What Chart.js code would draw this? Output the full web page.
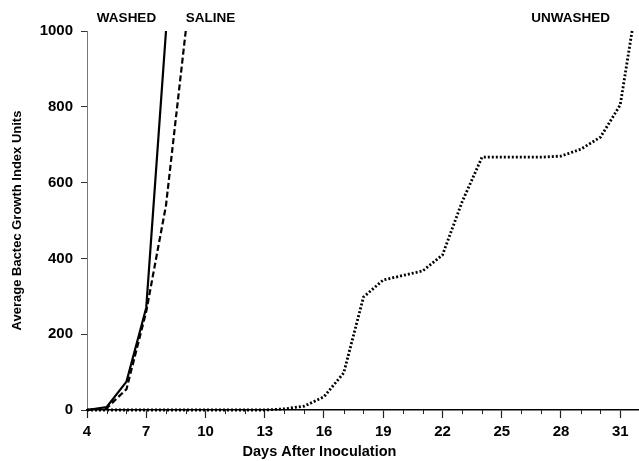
<!DOCTYPE html>
<html>
<head>
<meta charset="utf-8">
<script src="https://cdn.jsdelivr.net/npm/chart.js@4/dist/chart.umd.min.js"></script>
<style>
  html, body { margin: 0; padding: 0; background: #fff; }
  #wrap { width: 639px; height: 461px; }
</style>
</head>
<body>
<div id="wrap"><canvas id="c"></canvas></div>
<script>
// days and growth index values
const washedDays = [4, 5, 6, 7, 8];
const washedVals = [0, 8, 75, 270, 1000];

const salineDays = [4, 5, 6, 7, 8, 9];
const salineVals = [0, 5, 55, 260, 540, 1000];

const unwashedDays = [4, 5, 6, 7, 8, 9, 10, 11, 12, 13, 14, 15, 16, 17, 18, 19, 20, 21, 22, 23, 24, 25, 26, 27, 28, 29, 30, 31, 31.6];
const unwashedVals = [0, 0, 0, 0, 0, 0, 0, 0, 0, 0, 3, 10, 35, 98, 298, 343, 355, 367, 409, 550, 667, 667, 667, 667, 670, 688, 720, 805, 1000];

const xLabelTicks = [4, 7, 10, 13, 16, 19, 22, 25, 28, 31];
const yTicks = [0, 200, 400, 600, 800, 1000];
const seriesNames = ['WASHED', 'SALINE', 'UNWASHED'];

const pts = (xs, ys) => xs.map((x, i) => ({ x, y: ys[i] }));
const FONT = '"Liberation Sans", Arial, sans-serif';

// curve names written at the top of the plot, anchored to data coords
const nameSpots = [
  { name: seriesNames[0], x: 4.5 },
  { name: seriesNames[1], x: 9.0 },
  { name: seriesNames[2], x: 26.5 },
];

const extras = {
  id: 'extras',
  afterDraw(chart) {
    const { ctx, scales: { x, y } } = chart;
    ctx.save();
    // minor ticks on x every day
    ctx.strokeStyle = '#222';
    ctx.lineWidth = 1;
    const base = y.bottom;
    for (let d = 4; d <= 31; d++) {
      if ((d - 4) % 3 === 0) continue;
      const px = Math.round(x.getPixelForValue(d)) + 0.5;
      ctx.beginPath();
      ctx.moveTo(px, base);
      ctx.lineTo(px, base + 4);
      ctx.stroke();
    }
    ctx.fillStyle = '#000';
    ctx.textBaseline = 'middle';
    // series names
    ctx.font = 'bold 13.5px ' + FONT;
    ctx.textAlign = 'left';
    nameSpots.forEach(s => {
      ctx.fillText(s.name, x.getPixelForValue(s.x), 18);
    });
    // x axis title, centred on the page like the original
    ctx.font = 'bold 14.5px ' + FONT;
    ctx.textAlign = 'center';
    ctx.fillText('Days After Inoculation', chart.width / 2, 452);
    ctx.restore();
  }
};

const lineCommon = {
  borderColor: '#000',
  pointRadius: 0,
  fill: false,
  tension: 0,
  clip: false,
};

new Chart(document.getElementById('c'), {
  type: 'line',
  data: {
    datasets: [
      { ...lineCommon, label: seriesNames[2], data: pts(unwashedDays, unwashedVals), borderWidth: 2.8, borderDash: [2, 2] },
      { ...lineCommon, label: seriesNames[1], data: pts(salineDays, salineVals), borderWidth: 2.2, borderDash: [6, 3] },
      { ...lineCommon, label: seriesNames[0], data: pts(washedDays, washedVals), borderWidth: 2.2 },
    ]
  },
  options: {
    responsive: true,
    maintainAspectRatio: false,
    animation: false,
    layout: { padding: { top: 31, right: 0, left: 10, bottom: 0 } },
    plugins: {
      legend: { display: false },
      tooltip: { enabled: false },
    },
    scales: {
      x: {
        type: 'linear',
        min: 4,
        max: 31.95,
        afterBuildTicks: s => { s.ticks = xLabelTicks.map(v => ({ value: v })); },
        afterFit: s => { s.height = 51; },
        ticks: {
          color: '#000',
          font: { family: FONT, size: 15, weight: 'bold' },
          padding: 5,
          maxRotation: 0,
          autoSkip: false,
        },
        grid: { drawOnChartArea: false, tickLength: 8, tickColor: '#222', tickWidth: 1.2 },
        border: { color: '#000', width: 1.6 },
      },
      y: {
        min: 0,
        max: 1000,
        afterBuildTicks: s => { s.ticks = yTicks.map(v => ({ value: v })); },
        afterFit: s => { s.width = 77; },
        ticks: {
          color: '#000',
          font: { family: FONT, size: 15, weight: 'bold' },
          padding: 8,
          callback: v => String(v),
        },
        grid: { drawOnChartArea: false, tickLength: 6, tickColor: '#333' },
        border: { color: '#777', width: 1, dash: [2, 1] },
        title: {
          display: true,
          text: 'Average Bactec Growth Index Units',
          color: '#000',
          font: { family: FONT, size: 13, weight: 'bold' },
          padding: { top: 0, bottom: 0 },
        },
      },
    },
  },
  plugins: [extras],
});
</script>
</body>
</html>
